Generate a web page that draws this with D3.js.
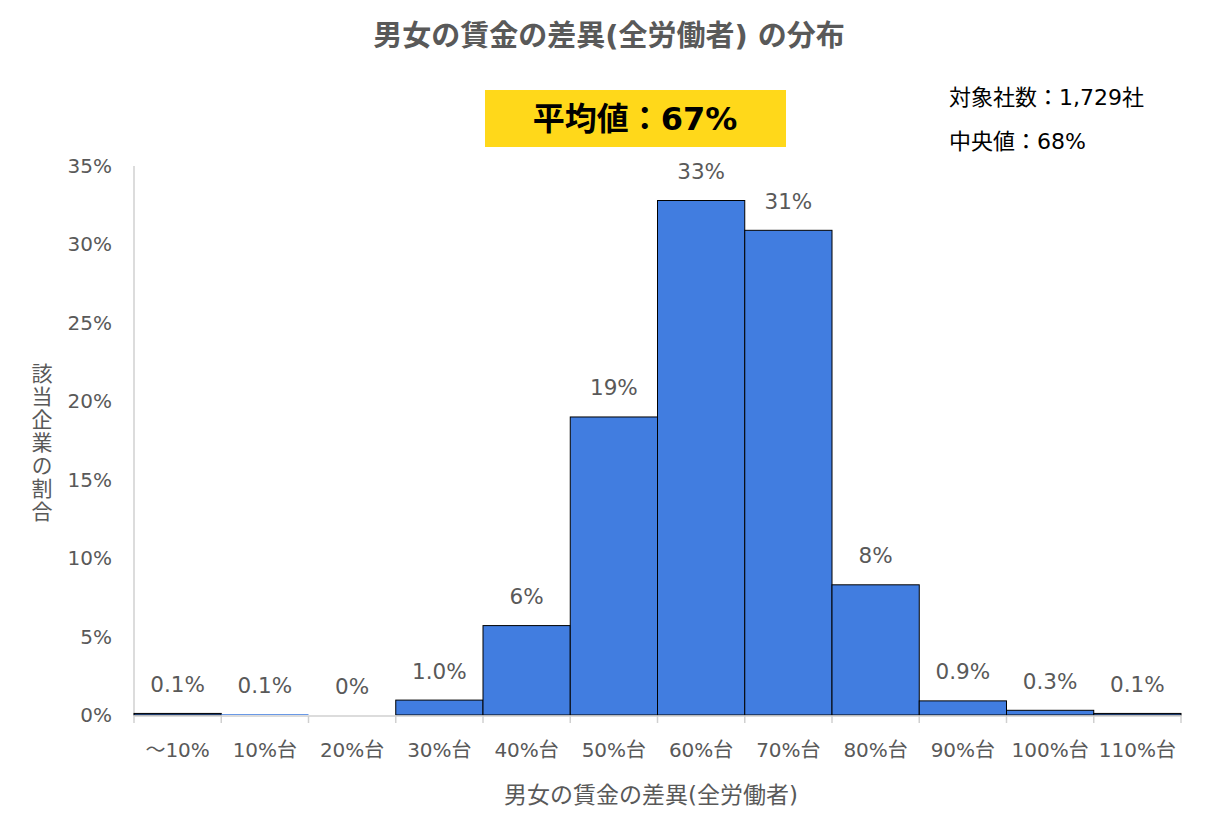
<!DOCTYPE html>
<html><head><meta charset="utf-8">
<script src="https://cdn.jsdelivr.net/npm/d3@7"></script>
<style>
body{margin:0;background:#fff;}
svg text{font-family:"DejaVu Sans","Noto Sans CJK JP",sans-serif;}
</style></head>
<body><svg id="chart" width="1207" height="827"></svg>
<script>
const categories = ["～10%","10%台","20%台","30%台","40%台","50%台","60%台","70%台","80%台","90%台","100%台","110%台"];
const values = [0.1, 0.05, 0, 0.95, 5.7, 19.0, 32.8, 30.9, 8.3, 0.9, 0.3, 0.1];
const valueLabels = ["0.1%","0.1%","0%","1.0%","6%","19%","33%","31%","8%","0.9%","0.3%","0.1%"];
const yTicks = [0,5,10,15,20,25,30,35];
const titleText = "男女の賃金の差異(全労働者) の分布";
const meanText = "平均値：67%";
const infoLines = ["対象社数：1,729社","中央値：68%"];
const xTitle = "男女の賃金の差異(全労働者)";
const yTitle = "該当企業の割合";

(function(){
const svg = d3.select("#chart");
const pL = 134, pR = 1181, pT = 166, pB = 715;
const x = d3.scaleBand().domain(categories).range([pL, pR]).padding(0);
const y = d3.scaleLinear().domain([0, 35]).range([pB, pT]);
const grey = "#595959";

svg.append("text").attr("x", 609).attr("y", 46).attr("text-anchor","middle")
  .attr("font-size", 29).attr("font-weight","bold").attr("fill", grey).text(titleText);

svg.append("rect").attr("x",485).attr("y",90).attr("width",301).attr("height",57).attr("fill","#FFD81A");
svg.append("text").attr("x",635).attr("y",130).attr("text-anchor","middle")
  .attr("font-size",32).attr("font-weight","bold").attr("fill","#000").text(meanText);

infoLines.forEach((t,i)=>{
  svg.append("text").attr("x",949).attr("y",105+i*44).attr("font-size",22).attr("fill","#000").text(t);
});

svg.append("line").attr("x1",pL).attr("x2",pL).attr("y1",pT).attr("y2",pB)
  .attr("stroke","#d0d0d0").attr("stroke-width",1.5);

svg.append("g").selectAll("text").data(yTicks).join("text")
  .attr("x", 112).attr("y", d=>y(d)).attr("dy","0.35em").attr("text-anchor","end")
  .attr("font-size",20).attr("fill",grey).text(d=>d+"%");

svg.append("g").selectAll("rect").data(values).join("rect")
  .attr("x",(d,i)=>x(categories[i])).attr("width",x.bandwidth())
  .attr("y",d=>y(d)).attr("height",d=>pB-y(d))
  .attr("fill","#417DE0").attr("stroke", d=>d>0.08?"#000":"none").attr("stroke-width",1);

svg.append("line").attr("x1",pL).attr("x2",pR).attr("y1",pB+1).attr("y2",pB+1)
  .attr("stroke","#d0d0d0").attr("stroke-width",1.5);
const bounds = categories.map(c=>x(c)).concat([pR]);
svg.append("g").selectAll("line").data(bounds).join("line")
  .attr("x1",d=>d).attr("x2",d=>d).attr("y1",pB+1).attr("y2",pB+8)
  .attr("stroke","#d0d0d0").attr("stroke-width",1.5);
svg.append("g").selectAll("text").data(categories).join("text")
  .attr("x",d=>x(d)+x.bandwidth()/2).attr("y",750).attr("dy","0.35em").attr("text-anchor","middle")
  .attr("font-size",20).attr("fill",grey).text(d=>d);

svg.append("g").selectAll("text").data(values).join("text")
  .attr("x",(d,i)=>x(categories[i])+x.bandwidth()/2).attr("y",d=>y(d)-29).attr("dy","0.35em")
  .attr("text-anchor","middle").attr("font-size",21.5).attr("fill",grey).text((d,i)=>valueLabels[i]);

svg.append("text").attr("x",651).attr("y",795).attr("dy","0.35em").attr("text-anchor","middle")
  .attr("font-size",23).attr("fill",grey).text(xTitle);

svg.append("text").attr("x",40).attr("y",363)
  .style("writing-mode","vertical-rl").style("text-orientation","upright")
  .attr("font-size",21).attr("letter-spacing","2px").attr("fill",grey).text(yTitle);
})();
</script></body></html>
